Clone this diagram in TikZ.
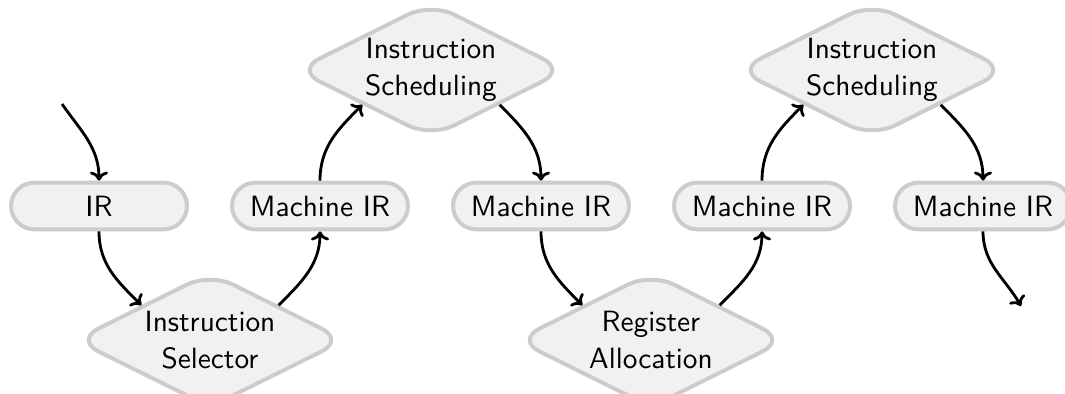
\documentclass[tikz,border=0pt]{standalone}
\usetikzlibrary{shapes.geometric,shapes.misc,arrows.meta}
\definecolor{nodefill}{HTML}{F1F1F1}
\definecolor{nodeline}{HTML}{CCCCCC}
\begin{document}
\begin{tikzpicture}[x=0.3546pt,y=-0.3546pt,
  font=\sffamily\fontsize{10.4}{13}\selectfont,
  irbox/.style={rounded rectangle, draw=nodeline, fill=nodefill, line width=1.4pt,
    minimum width=62.4pt, minimum height=16.6pt, inner sep=0pt},
  passbox/.style={diamond, aspect=2, draw=nodeline, fill=nodefill, line width=1.4pt,
    rounded corners=9pt, minimum width=96pt, minimum height=48pt, inner sep=0pt, align=center},
  flow/.style={-{To[length=3.2pt,width=6.4pt]}, line width=1pt}]
\useasboundingbox (0,0) rectangle (1065,394);

% intermediate representations
\node[irbox] (ir)   at (99,206)  {IR};
\node[irbox] (mir1) at (320,206) {Machine IR};
\node[irbox] (mir2) at (541,206) {Machine IR};
\node[irbox] (mir3) at (762,206) {Machine IR};
\node[irbox] (mir4) at (983,206) {Machine IR};

% compiler passes
\node[passbox] (isel)   at (210,340) {Instruction\\Selector};
\node[passbox] (sched1) at (431,70)  {Instruction\\Scheduling};
\node[passbox] (ralloc) at (651,340) {Register\\Allocation};
\node[passbox] (sched2) at (872,70)  {Instruction\\Scheduling};

\coordinate (in)  at (62,104);
\coordinate (out) at (1021,306);

% data flow
\draw[flow] (in) to[out=-55,in=90] (ir.north);
\draw[flow] (ir.south) to[out=-90,in=135] (isel.north west);
\draw[flow] (isel.north east) to[out=45,in=-90] (mir1.south);
\draw[flow] (mir1.north) to[out=90,in=-135] (sched1.south west);
\draw[flow] (sched1.south east) to[out=-45,in=90] (mir2.north);
\draw[flow] (mir2.south) to[out=-90,in=135] (ralloc.north west);
\draw[flow] (ralloc.north east) to[out=45,in=-90] (mir3.south);
\draw[flow] (mir3.north) to[out=90,in=-135] (sched2.south west);
\draw[flow] (sched2.south east) to[out=-45,in=90] (mir4.north);
\draw[flow] (mir4.south) to[out=-90,in=120] (out);
\end{tikzpicture}
\end{document}
